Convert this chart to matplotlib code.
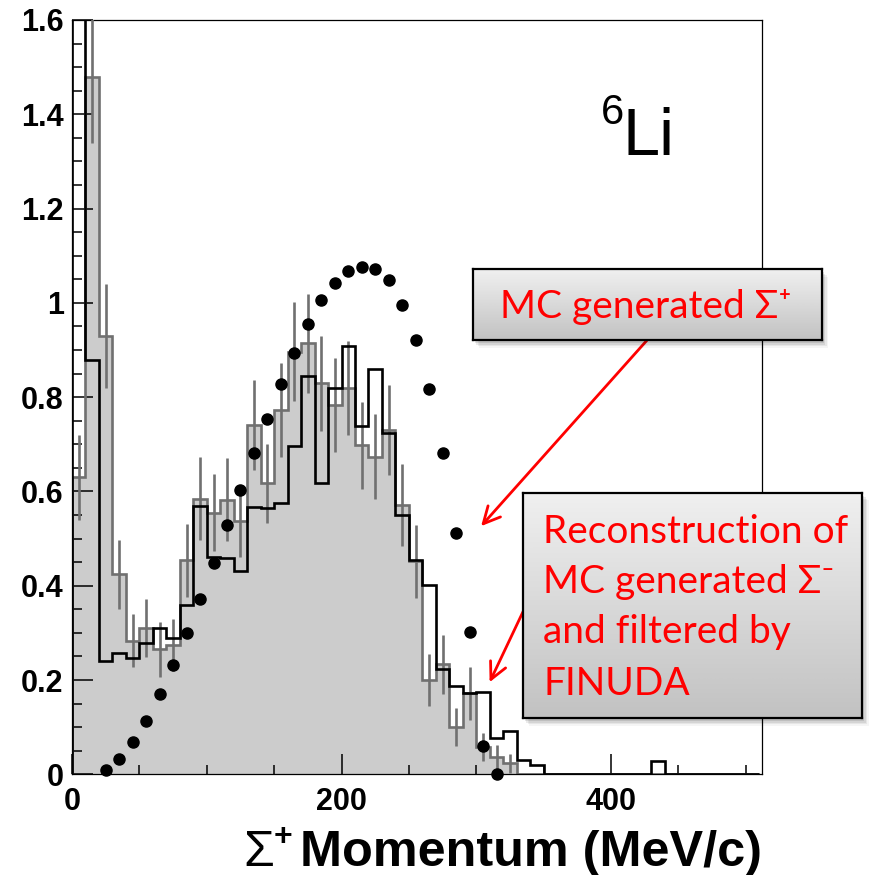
import numpy as np
import matplotlib
matplotlib.use("Agg")
import matplotlib.pyplot as plt
from matplotlib.patches import Rectangle
from matplotlib.ticker import MultipleLocator

# 10 MeV/c bins, 0-510
bin_edges = np.arange(0, 520, 10)

# filtered reconstruction (grey, with errors)
reco_filtered = [
    0.63, 1.48, 0.93, 0.424, 0.283, 0.31, 0.265, 0.274, 0.454, 0.585,
    0.555, 0.582, 0.537, 0.741, 0.617, 0.773, 0.896, 0.914, 0.829, 0.783,
    0.819, 0.698, 0.674, 0.73, 0.572, 0.452, 0.20, 0.233, 0.10, 0.172,
    0.058, 0.037, 0.023, 0, 0, 0, 0, 0, 0, 0,
    0, 0, 0, 0, 0, 0, 0, 0, 0, 0,
    0,
]
reco_filtered_err = [
    0.09, 0.14, 0.11, 0.074, 0.056, 0.061, 0.058, 0.055, 0.077, 0.088,
    0.081, 0.088, 0.076, 0.095, 0.083, 0.10, 0.105, 0.105, 0.10, 0.10,
    0.10, 0.092, 0.09, 0.095, 0.087, 0.077, 0.055, 0.062, 0.04, 0.056,
    0.03, 0.025, 0.02,
]

# reconstructed spectrum (black line)
reco_all = [
    2.0, 0.879, 0.24, 0.258, 0.246, 0.278, 0.31, 0.29, 0.359, 0.57,
    0.461, 0.458, 0.431, 0.568, 0.565, 0.575, 0.696, 0.845, 0.617, 0.819,
    0.908, 0.739, 0.86, 0.725, 0.551, 0.455, 0.402, 0.224, 0.187, 0.172,
    0.175, 0.078, 0.091, 0.031, 0.02, 0, 0, 0, 0, 0,
    0, 0, 0, 0.029, 0, 0, 0, 0, 0, 0,
    0,
]

# generated Sigma+ momentum (dots)
gen_p = [25, 35, 45, 55, 65, 75, 85, 95, 105, 115,
         125, 135, 145, 155, 165, 175, 185, 195, 205, 215,
         225, 235, 245, 255, 265, 275, 285, 295, 305, 315]
gen_val = [0.009, 0.032, 0.069, 0.113, 0.17, 0.232, 0.299, 0.371, 0.449, 0.529,
           0.604, 0.682, 0.754, 0.828, 0.894, 0.956, 1.007, 1.043, 1.067, 1.077,
           1.071, 1.048, 0.995, 0.921, 0.817, 0.682, 0.511, 0.301, 0.06, 0.0]

W, H = 880, 875
plt.rcParams['font.family'] = ['Liberation Sans', 'DejaVu Sans']

fig = plt.figure(figsize=(W / 100, H / 100), dpi=100)
ax = fig.add_axes([72 / W, 1 - 774.3 / H, 690 / W, 754.3 / H])
ax.set_zorder(0)

fill_col = '#cccccc'
edge_col = '#707070'

ax.stairs(reco_filtered, bin_edges, fill=True, color=fill_col, zorder=1)
ax.stairs(reco_filtered, bin_edges, color=edge_col, lw=1.9, zorder=2)
centers = (bin_edges[:-1] + bin_edges[1:]) / 2
n_err = len(reco_filtered_err)
ax.errorbar(centers[:n_err], reco_filtered[:n_err], yerr=reco_filtered_err,
            fmt='none', ecolor=edge_col, elinewidth=1.9, capsize=0, zorder=3)
ax.stairs(reco_all, bin_edges, color='black', lw=1.9, zorder=4)
ax.plot(gen_p, gen_val, 'o', color='black', ms=8, zorder=5, clip_on=False)

ax.set_xlim(0, 512)
ax.set_ylim(0, 1.6)
ax.xaxis.set_major_locator(MultipleLocator(200))
ax.xaxis.set_minor_locator(MultipleLocator(50))
ax.yaxis.set_major_locator(MultipleLocator(0.2))
ax.yaxis.set_minor_locator(MultipleLocator(0.05))
ax.yaxis.set_major_formatter(plt.FuncFormatter(lambda v, p: f'{v:g}'))
ax.tick_params(which='both', direction='in', top=False, right=False, width=1.1)
ax.tick_params(axis='y', which='major', length=15, pad=6, labelsize=22)
ax.tick_params(axis='y', which='minor', length=7.5)
ax.tick_params(axis='x', which='major', length=14.5, pad=9, labelsize=22)
ax.tick_params(axis='x', which='minor', length=6.5)
for lab in ax.get_xticklabels() + ax.get_yticklabels():
    lab.set_fontweight('bold')
for sp in ax.spines.values():
    sp.set_linewidth(0.9)

# arrows from the boxes
arrow_kw = dict(arrowstyle='->', color='red', lw=2, mutation_scale=30)
ax.annotate('', xy=(302.2, 0.522), xytext=(428, 0.925),
            arrowprops=arrow_kw, annotation_clip=False)
ax.annotate('', xy=(309, 0.19), xytext=(338, 0.365),
            arrowprops=arrow_kw, annotation_clip=False)

# nucleus label
fig.text(601 / W, 1 - 123.5 / H, '6', fontsize=30, va='baseline', ha='left')
fig.text(622 / W, 1 - 155 / H, 'Li', fontsize=48, va='baseline', ha='left')

# x axis title, right aligned with the frame
xt = fig.text(762 / W, 1 - 866 / H, 'Momentum (MeV/c)', fontsize=36.3,
              fontweight='bold', ha='right', va='baseline')
fig.canvas.draw()
bb = xt.get_window_extent()
fig.text((bb.x0 - 8) / W, 1 - 845 / H, '+', fontsize=23, fontweight='bold',
         ha='right', va='baseline')
fig.text((bb.x0 - 26) / W, 1 - 866 / H, 'Σ', fontsize=36, ha='right',
         va='baseline')


def callout(x0, y0, x1, y1):
    left, bottom = x0 / W, 1 - y1 / H
    width, height = (x1 - x0) / W, (y1 - y0) / H
    # soft drop shadow
    for k, a in enumerate([0.10, 0.08, 0.06, 0.04]):
        off = 2 + k * 1.5
        fig.patches.append(Rectangle((left + off / W, bottom - (off + 1) / H), width, height,
                                     transform=fig.transFigure, color='black',
                                     alpha=a, lw=0, zorder=2))
    bx = fig.add_axes([left, bottom, width, height])
    bx.set_zorder(3)
    grad = np.linspace(0.94, 0.76, 100).reshape(-1, 1)
    bx.imshow(grad, aspect='auto', cmap='gray', vmin=0, vmax=1,
              extent=[0, 1, 0, 1], interpolation='bicubic')
    bx.set_xticks([])
    bx.set_yticks([])
    for sp in bx.spines.values():
        sp.set_linewidth(1.6)
    return bx


box_font = ['Lato', 'Noto Sans', 'DejaVu Sans']

b1 = callout(472.7, 269.3, 821.7, 340)
fig.text(646 / W, 1 - 318.3 / H, 'MC generated Σ⁺', fontsize=28, color='red',
         family=box_font, ha='center', va='baseline', zorder=4)

b2 = callout(522.7, 492.7, 862, 718.3)
box2_lines = ['Reconstruction of', 'MC generated Σ⁻', 'and filtered by', 'FINUDA']
box2_base = [543, 593.3, 643.3, 695]
for line, yb in zip(box2_lines, box2_base):
    fig.text(543.3 / W, 1 - yb / H, line, fontsize=28, color='red',
             family=box_font, ha='left', va='baseline', zorder=4)

fig.savefig('out.png', dpi=100)
